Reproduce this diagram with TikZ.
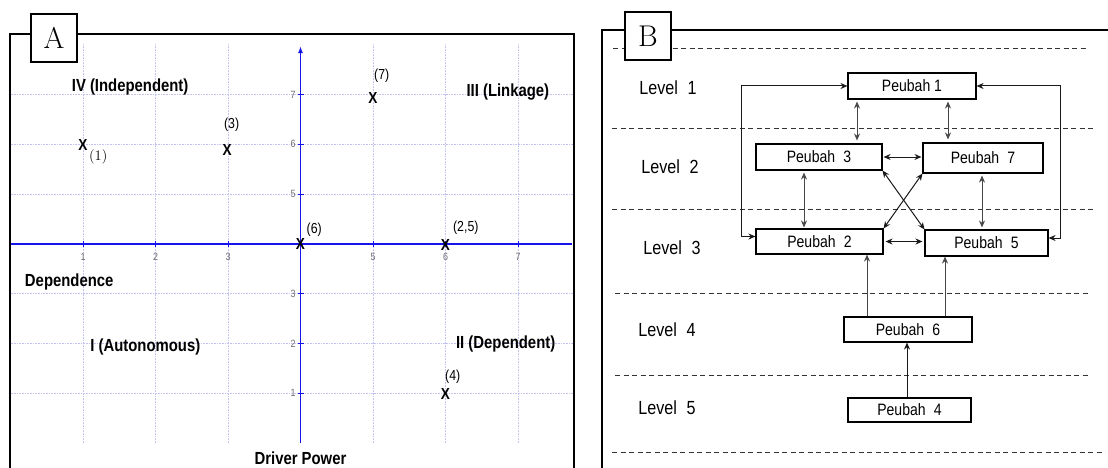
\documentclass[tikz,border=0pt]{standalone}
\usepackage{fontspec}
\setsansfont{Liberation Sans}[FakeStretch=0.85]
\usetikzlibrary{arrows.meta}

\definecolor{gridblue}{RGB}{195,195,240}
\definecolor{axisblue}{RGB}{20,20,235}
\definecolor{ticktext}{RGB}{110,110,110}
\definecolor{linkgray}{RGB}{70,70,70}

\tikzset{
  panelframe/.style={line width=1.6pt},
  paneltag/.style={draw,line width=1.4pt,fill=white,minimum width=46pt,minimum height=48pt,inner sep=0pt,font=\fontsize{30}{30}\selectfont},
  gridline/.style={gridblue,densely dotted,line width=0.6pt},
  axisline/.style={axisblue,line width=1.5pt},
  ticklab/.style={ticktext,font=\sffamily\fontsize{10.5}{10.5}\selectfont,inner sep=1pt},
  quadrant/.style={font=\sffamily\bfseries\fontsize{17.5}{20}\selectfont,inner sep=0pt},
  ptx/.style={font=\sffamily\bfseries\fontsize{16}{16}\selectfont,inner sep=0pt},
  ptlabel/.style={font=\sffamily\fontsize{14.5}{14.5}\selectfont,inner sep=0pt},
  level/.style={font=\sffamily\fontsize{19}{20}\selectfont,inner sep=0pt},
  peubah/.style={draw,line width=1.1pt,inner sep=0pt,font=\sffamily\fontsize{16.5}{18}\selectfont},
  levelsep/.style={dash pattern=on 5pt off 3.5pt,line width=0.9pt,black!80},
  link/.style={<->,>={Stealth[length=7pt,width=6pt]},line width=1pt,black!90},
  greylink/.style={link,linkgray},
}

\begin{document}
\begin{tikzpicture}[x=1pt,y=-1pt]
\useasboundingbox (0,0) rectangle (1108,468);
\fill[white] (0,0) rectangle (1108,468);

% ---- panel A: driver power against dependence
\draw[panelframe] (10,470) -- (10,34) -- (574,34) -- (574,470);
\begin{scope}[shift={(10.5,443)},x=72.5pt,y=49.8pt]
  \foreach \k in {1,2,3,5,6,7}
    \draw[gridline] (\k,0) -- (\k,8.02);
  \foreach \v in {1,2,3,5,6,7}
    \draw[gridline] (0,\v) -- (7.75,\v);
  \draw[axisline] (0,4) -- (7.75,4);
  \draw[axisline,-{Latex[length=7pt,width=5pt]}] (4,0) -- (4,7.97);

  \foreach \k in {1,2,3,5,6,7}{
    \draw[axisline,line width=0.8pt] (\k,4) +(0pt,3pt) -- +(0pt,-3pt);
    \node[ticklab] (tx\k) at (\k,3.74) {\k};
  }
  \foreach \v in {1,2,3,5,6,7}{
    \draw[axisline,line width=0.8pt] (4,\v) +(-3pt,0pt) -- +(3pt,0pt);
    \node[ticklab,anchor=east] (ty\v) at (3.95,\v) {\v};
  }

  % variables
  \foreach \n/\x/\y in {p1/1/5.98,p3/2.99/5.88,p7/5/6.93,p6/4/4,p25/6/3.98,p4/6/0.98}
    \node[ptx] (\n) at (\x,\y) {X};
  \node[ptlabel,font=\rmfamily\fontsize{14.5}{14.5}\selectfont] (p1lab) at (1.21,5.74) {(1)};
  \node[ptlabel] (p3lab) at (3.05,6.4) {(3)};
  \node[ptlabel] (p7lab) at (5.12,7.37) {(7)};
  \node[ptlabel] (p6lab) at (4.19,4.28) {(6)};
  \node[ptlabel] (p25lab) at (6.28,4.32) {(2,5)};
  \node[ptlabel] (p4lab) at (6.1,1.33) {(4)};

  \node[quadrant] (qIV) at (1.65,7.15) {IV (Independent)};
  \node[quadrant] (qIII) at (6.86,7.05) {III (Linkage)};
  \node[quadrant] (qI) at (1.86,1.93) {I (Autonomous)};
  \node[quadrant] (qII) at (6.83,1.99) {II (Dependent)};
  \node[quadrant] (dep) at (0.81,3.23) {Dependence};
  \node[quadrant] (drv) at (4,-0.3) {Driver Power};
\end{scope}
\node[paneltag] (tagA) at (54,38) {A};

% ---- panel B: levels of the structural model
\draw[panelframe] (602,470) -- (602,30) -- (1112,30);
\foreach \y/\a/\b in {48/613/1088,128/612/1095,209/612/1095,293/615/1090,375/615/1088,452/612/1105}
  \draw[levelsep] (\a,\y) -- (\b,\y);
\node[paneltag] (tagB) at (648,36) {B};

\foreach \i/\x/\y in {1/668/88,2/670/167,3/672/248,4/667/330,5/667/408}
  \node[level] (lev\i) at (\x,\y) {Level\enspace\i};

\node[peubah,minimum width=128pt,minimum height=26pt] (pb1) at (912,86) {Peubah 1};
\node[peubah,minimum width=126pt,minimum height=26pt] (pb3) at (819,157) {Peubah\enspace3};
\node[peubah,minimum width=120pt,minimum height=30pt] (pb7) at (983,158) {Peubah\enspace7};
\node[peubah,minimum width=127pt,minimum height=25pt] (pb2) at (819.5,241.5) {Peubah\enspace2};
\node[peubah,minimum width=123pt,minimum height=26pt] (pb5) at (986.5,243) {Peubah\enspace5};
\node[peubah,minimum width=128pt,minimum height=25pt] (pb6) at (908,329.5) {Peubah\enspace6};
\node[peubah,minimum width=123pt,minimum height=24pt] (pb4) at (909.5,410) {Peubah\enspace4};

% links between the variables
\draw[greylink] ([xshift=-55pt,yshift=-2pt]pb1.south) -- ([xshift=38pt,yshift=3pt]pb3.north);
\draw[greylink] ([xshift=36pt,yshift=-2pt]pb1.south) -- ([xshift=-35pt,yshift=3pt]pb7.north);
\draw[link] ([xshift=1pt]pb3.east) -- ([xshift=-1pt]pb3.east -| pb7.west);
\draw[greylink] ([xshift=-15pt,yshift=-2pt]pb3.south) -- ([xshift=-15.5pt,yshift=1pt]pb2.north);
\draw[greylink] ([xshift=-1pt,yshift=-2pt]pb7.south) -- ([xshift=-4.5pt,yshift=2pt]pb5.north);
\draw[link] (pb3.south east) -- (pb5.north west);
\draw[link] (pb7.south west) -- (pb2.north east);
\draw[link] ([xshift=2pt]pb2.east) -- ([xshift=-2pt]pb2.east -| pb5.west);
\draw[link] ([yshift=5pt]pb2.west) -- ++(-14,0) |- (pb1.west);
\draw[link] ([yshift=5pt]pb5.east) -- ++(12,0) |- (pb1.east);
\draw[greylink,->] ([xshift=-41pt]pb6.north) -- ([xshift=47.5pt]pb2.south);
\draw[greylink,->] ([xshift=37pt]pb6.north) -- ([xshift=-41.5pt]pb5.south);
\draw[link,->] ([xshift=-2.5pt]pb4.north) -- ([xshift=-1pt]pb6.south);

\end{tikzpicture}
\end{document}
